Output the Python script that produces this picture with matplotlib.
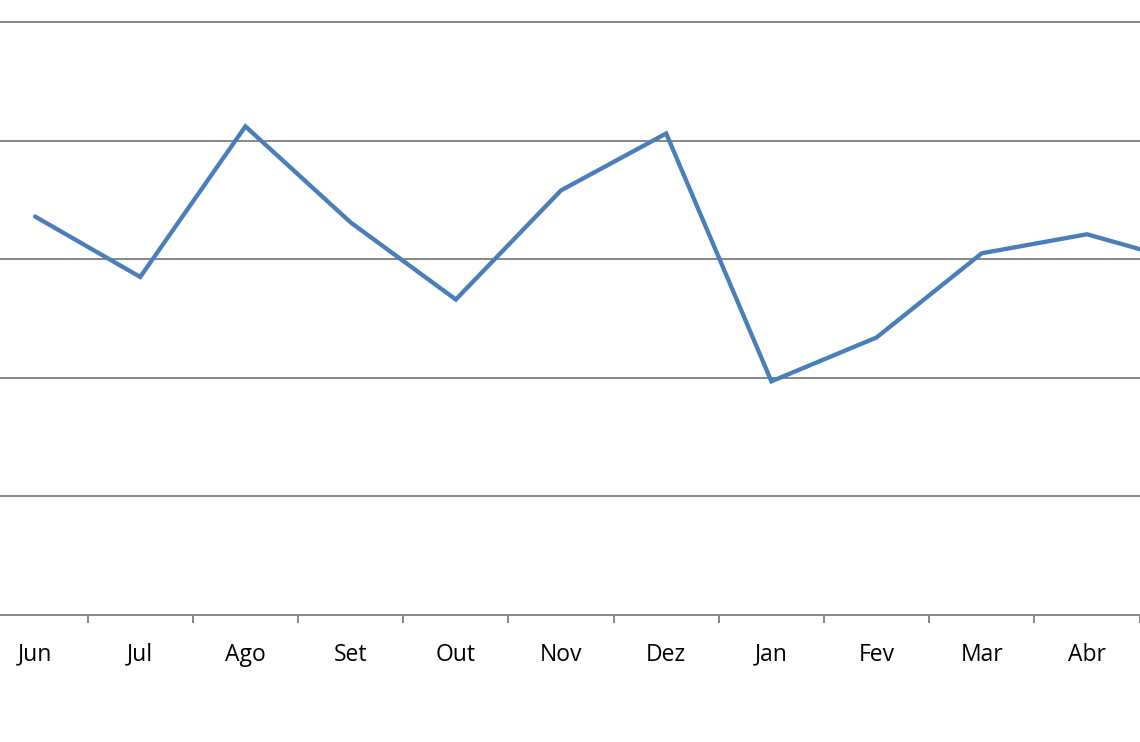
import matplotlib.pyplot as plt

# monthly series (Jun .. Mai)
months = ['Jun', 'Jul', 'Ago', 'Set', 'Out', 'Nov', 'Dez', 'Jan', 'Fev', 'Mar', 'Abr', 'Mai']
values = [3.36, 2.85, 4.12, 3.31, 2.66, 3.58, 4.06, 1.97, 2.34, 3.05, 3.21, 2.96]
grid_levels = [1, 2, 3, 4, 5]

LINE_BLUE = '#4a7ebb'
GRID_GREY = '#868686'

fig = plt.figure(figsize=(11.4, 7.42), dpi=100)
ax = fig.add_axes([0, 0.1712, 1, 0.8288])

x = list(range(len(months)))
ax.plot(x, values, color=LINE_BLUE, linewidth=3.1, solid_joinstyle='miter',
        solid_capstyle='round', zorder=3)

for g in grid_levels:
    ax.axhline(g, color=GRID_GREY, linewidth=1.4, zorder=1)

for side in ['top', 'right', 'left']:
    ax.spines[side].set_visible(False)
ax.spines['bottom'].set_color(GRID_GREY)
ax.spines['bottom'].set_linewidth(1.4)

ax.set_yticks([])
ax.set_xticks(x)
ax.set_xticklabels(months, fontsize=16.5, family='Open Sans')
ax.set_xticks([i + 0.5 for i in range(-1, len(months))], minor=True)
ax.tick_params(axis='x', which='major', length=0, pad=20)
ax.tick_params(axis='x', which='minor', length=6, width=1.4, color=GRID_GREY)

# limits last, so the tick calls do not widen the view
ax.set_xlim(-0.333, 10.504)
ax.set_ylim(0, 5.1855)

fig.savefig('out.png', dpi=100)
